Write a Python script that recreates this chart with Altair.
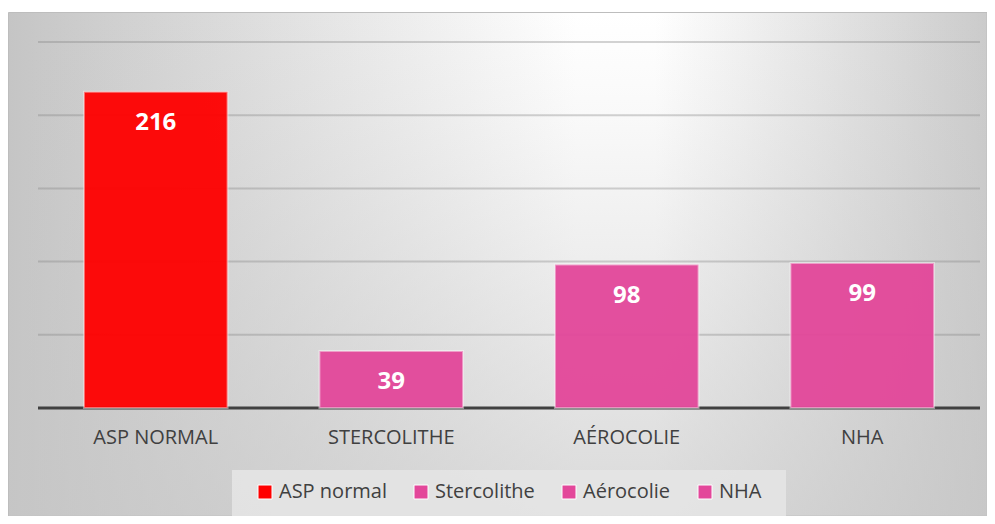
import altair as alt
import pandas as pd

categories = ["ASP NORMAL", "STERCOLITHE", "AÉROCOLIE", "NHA"]
series_names = ["ASP normal", "Stercolithe", "Aérocolie", "NHA"]
values = [216, 39, 98, 99]
grid_values = [50, 100, 150, 200, 250]
colors = ["#ff0000", "#e3479a", "#e3479a", "#e3479a"]

df = pd.DataFrame({"cat": categories, "serie": series_names, "val": values})
grid_df = pd.DataFrame({"g": grid_values})
base_df = pd.DataFrame({"z": [0]})

W, H = 942, 366
FONT = "Open Sans"

x_scale = alt.Scale(domain=categories, paddingInner=0.39, paddingOuter=0.195)
y_scale = alt.Scale(domain=[0, 250], nice=False, zero=True)

one = alt.Data(values=[{}])

bg = alt.Chart(one).mark_rect(
    fill=alt.LinearGradient(
        gradient="linear", x1=0, x2=1, y1=0, y2=0,
        stops=[
            alt.GradientStop(color="#c5c5c5", offset=0),
            alt.GradientStop(color="#ffffff", offset=0.58),
            alt.GradientStop(color="#ffffff", offset=0.66),
            alt.GradientStop(color="#cbcbcb", offset=1),
        ],
    ),
    stroke="#bdbdbd", strokeWidth=1,
).encode(x=alt.value(-29.5), x2=alt.value(W + 7), y=alt.value(-29.5), y2=alt.value(H + 108))

bg2 = alt.Chart(one).mark_rect(
    fill=alt.LinearGradient(
        gradient="linear", x1=0, x2=0, y1=0, y2=1,
        stops=[
            alt.GradientStop(color="rgba(198,198,198,0)", offset=0),
            alt.GradientStop(color="rgba(198,198,198,0.1)", offset=0.2),
            alt.GradientStop(color="rgba(198,198,198,0.65)", offset=1),
        ],
    ),
).encode(x=alt.value(-29), x2=alt.value(W + 7), y=alt.value(-29), y2=alt.value(H + 108))

legbox = alt.Chart(one).mark_rect(fill="#e4e4e4", opacity=0.9).encode(
    x=alt.value(194), x2=alt.value(748), y=alt.value(428), y2=alt.value(474)
)

grid = alt.Chart(grid_df).mark_rule(stroke="#808080", strokeOpacity=0.35, strokeWidth=2).encode(
    y=alt.Y("g:Q", scale=y_scale, axis=None)
)

baseline = alt.Chart(base_df).mark_rule(color="#404040", strokeWidth=3).encode(
    y=alt.Y("z:Q", scale=y_scale, axis=None)
)

x_enc = alt.X(
    "cat:N",
    scale=x_scale,
    axis=alt.Axis(
        title=None, domain=False, ticks=False, tickSize=0, grid=False,
        labelPadding=29, labelBaseline="middle", labelAngle=0,
        labelFontSize=20, labelFont=FONT, labelColor="#404040", zindex=1,
    ),
)

bars = alt.Chart(df).mark_bar(
    opacity=0.95, stroke="white", strokeOpacity=0.45, strokeWidth=2
).encode(
    x=x_enc,
    y=alt.Y("val:Q", scale=y_scale, axis=None),
    color=alt.Color(
        "serie:N",
        scale=alt.Scale(domain=series_names, range=colors),
        legend=alt.Legend(
            orient="none", legendX=217, legendY=440, direction="horizontal",
            title=None, symbolType="square", symbolSize=196,
            symbolStrokeWidth=1, symbolStrokeColor="#ffffff", symbolOpacity=1,
            labelFontSize=20, labelFont=FONT, labelColor="#404040",
            columnPadding=24, labelOffset=4, padding=0,
        ),
    ),
)

labels = alt.Chart(df).mark_text(
    dy=31, baseline="middle", fontWeight="bold", fontSize=24, color="white", font=FONT
).encode(
    x=alt.X("cat:N", scale=x_scale),
    y=alt.Y("val:Q", scale=y_scale, axis=None),
    text="val:Q",
)

chart = alt.layer(bg, bg2, legbox, grid, baseline, bars, labels).properties(
    width=W, height=H,
    padding={"left": 30, "top": 34, "right": 7, "bottom": 108},
    autosize=alt.AutoSizeParams(type="none"),
).configure_view(stroke=None).configure(background="white")

chart.save("out.html", embed_options={"renderer": "svg", "actions": False})
